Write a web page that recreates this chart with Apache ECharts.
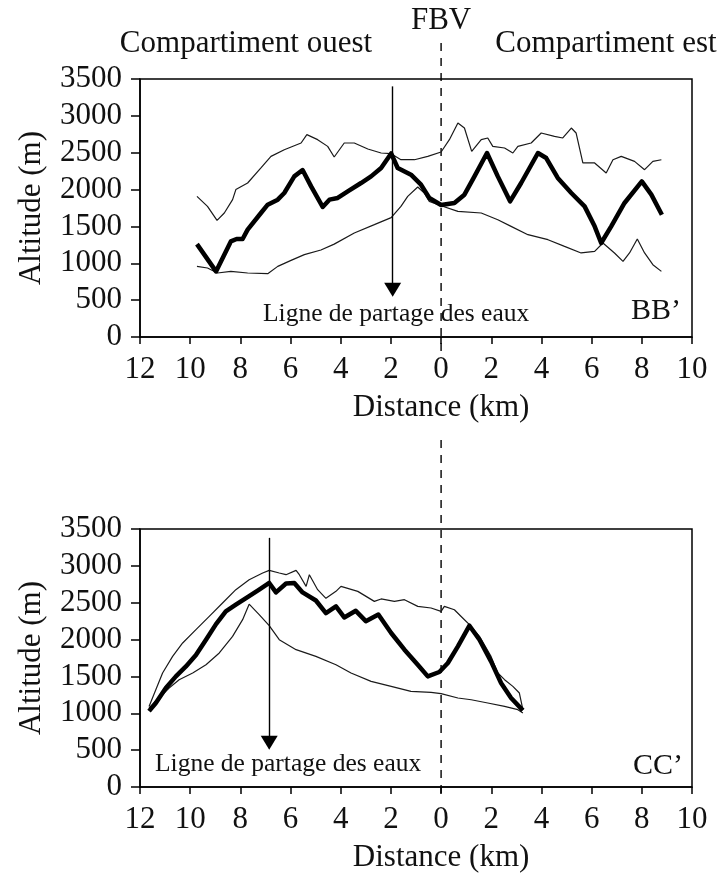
<!DOCTYPE html>
<html>
<head>
<meta charset="utf-8">
<script src="https://cdn.jsdelivr.net/npm/echarts/dist/echarts.min.js"></script>
<style>
  html, body { margin: 0; padding: 0; background: #ffffff; }
  #chart { width: 720px; height: 878px; }
</style>
</head>
<body>
<div id="chart"></div>
<script>
// Distance along the sections in km: west compartment negative, east positive.
const distanceMin = -12;
const distanceMax = 10;
const distanceStep = 2;
const altitudeMin = 0;
const altitudeMax = 3500;
const altitudeStep = 500;

// Section BB' : [distance km, altitude m]
const bbProfile = [
  [-9.73,1260],[-8.97,890],[-8.38,1297],[-8.15,1330],[-7.91,1330],[-7.71,1456],
  [-7.18,1682],[-6.91,1795],[-6.51,1863],[-6.25,1954],[-5.85,2179],[-5.52,2265],
  [-5.18,2043],[-4.72,1764],[-4.45,1863],[-4.12,1886],[-3.72,1976],[-3.19,2089],
  [-2.79,2179],[-2.39,2293],[-1.99,2490],[-1.73,2293],[-1.2,2202],[-0.8,2066],
  [-0.47,1886],[0,1790],[0.53,1818],[0.93,1931],[1.33,2179],[1.83,2496],
  [2.26,2179],[2.75,1840],[3.19,2089],[3.86,2496],[4.19,2428],[4.65,2157],
  [5.19,1954],[5.72,1772],[6.12,1501],[6.38,1275],[6.78,1501],[7.31,1818],
  [8.0,2111],[8.38,1931],[8.8,1659]
];
const bbUpper = [
  [-9.73,1908],[-9.31,1772],[-8.93,1582],[-8.64,1682],[-8.31,1863],[-8.18,2000],
  [-7.71,2089],[-7.18,2293],[-6.78,2450],[-6.25,2541],[-5.58,2632],[-5.35,2745],
  [-4.92,2677],[-4.52,2586],[-4.26,2442],[-3.86,2632],[-3.46,2632],[-2.92,2551],
  [-2.39,2496],[-1.99,2487],[-1.6,2405],[-1.06,2405],[-0.53,2450],[0,2510],
  [0.33,2677],[0.67,2903],[0.93,2835],[1.22,2518],[1.6,2677],[1.86,2700],
  [2.06,2586],[2.53,2564],[2.86,2496],[3.06,2586],[3.59,2632],[3.99,2768],
  [4.52,2722],[4.85,2700],[5.19,2835],[5.38,2768],[5.65,2361],[6.12,2361],
  [6.58,2225],[6.85,2405],[7.18,2450],[7.71,2383],[8.11,2270],[8.44,2383],[8.78,2405]
];
const bbLower = [
  [-9.73,958],[-9.31,936],[-8.91,868],[-8.38,890],[-7.71,868],[-6.91,859],
  [-6.51,958],[-5.98,1040],[-5.45,1117],[-4.79,1180],[-4.26,1260],[-3.46,1411],
  [-2.66,1524],[-1.99,1620],[-1.6,1772],[-1.33,1908],[-0.93,2035],[-0.67,1954],
  [-0.47,1840],[0,1781],[0.67,1704],[1.6,1682],[2.26,1591],[2.79,1501],
  [3.46,1388],[4.26,1320],[4.92,1229],[5.58,1140],[6.12,1161],[6.45,1275],
  [6.91,1140],[7.25,1026],[7.51,1140],[7.82,1330],[8.11,1140],[8.44,981],[8.78,890]
];

// Section CC' : [distance km, altitude m]
const ccProfile = [
  [-11.64,1030],[-11.37,1140],[-10.97,1343],[-10.57,1501],[-10.17,1636],[-9.77,1790],
  [-9.37,1998],[-8.97,2210],[-8.58,2382],[-8.18,2473],[-7.65,2590],[-7.25,2677],
  [-6.85,2768],[-6.58,2640],[-6.18,2760],[-5.85,2768],[-5.52,2640],[-4.99,2530],
  [-4.59,2360],[-4.19,2450],[-3.86,2300],[-3.4,2390],[-3.0,2250],[-2.5,2340],
  [-1.99,2089],[-1.46,1863],[-0.93,1660],[-0.53,1501],[-0.07,1560],[0.27,1682],
  [0.67,1908],[1.13,2188],[1.53,1998],[1.99,1704],[2.39,1411],[2.79,1207],[3.26,1039]
];
const ccUpper = [
  [-11.64,1093],[-11.37,1320],[-11.1,1547],[-10.7,1772],[-10.3,1954],[-9.77,2134],
  [-9.24,2315],[-8.71,2496],[-8.18,2677],[-7.65,2812],[-7.11,2903],[-6.85,2939],
  [-6.45,2903],[-6.18,2880],[-5.78,2939],[-5.65,2880],[-5.38,2722],[-5.25,2880],
  [-4.92,2677],[-4.59,2560],[-4.19,2654],[-3.99,2722],[-3.32,2654],[-2.66,2518],
  [-2.39,2551],[-1.86,2518],[-1.46,2541],[-0.93,2450],[-0.4,2428],[0,2382],
  [0.13,2450],[0.53,2405],[0.86,2293],[1.13,2202],[1.53,2043],[1.99,1772],
  [2.26,1547],[2.53,1456],[2.86,1365],[3.12,1275],[3.26,1049]
];
const ccLower = [
  [-11.64,1072],[-11.24,1207],[-10.84,1343],[-10.44,1456],[-9.9,1547],[-9.37,1659],
  [-8.84,1818],[-8.31,2043],[-7.91,2270],[-7.65,2480],[-7.25,2338],[-6.85,2190],
  [-6.45,1998],[-5.78,1863],[-4.99,1772],[-4.19,1659],[-3.59,1547],[-2.79,1433],
  [-1.99,1365],[-1.2,1297],[-0.4,1284],[0,1266],[0.67,1207],[1.2,1184],
  [1.86,1140],[2.53,1093],[3.06,1049],[3.26,1004]
];

// Water divide position on each section (km) and the altitude span of its arrow
const divideKm = [-1.93, -6.85];
const divideArrowFrom = [3400, 3380];
const divideArrowTo = [640, 600];

const sectionNames = ['BB\u2019', 'CC\u2019'];
const divideLabel = 'Ligne de partage des eaux';
const headerLabels = ['Compartiment ouest', 'FBV', 'Compartiment est'];
const distanceName = 'Distance (km)';
const altitudeName = 'Altitude (m)';

const FONT = '"Liberation Serif", "Times New Roman", Times, serif';
const INK = '#111111';
const TEXT = 31;

const gridBoxes = [
  { left: 140, top: 79, width: 552, height: 258 },
  { left: 140, top: 529, width: 552, height: 258 }
];

const chart = echarts.init(document.getElementById('chart'), null, { renderer: 'canvas' });

function xAxisFor(i) {
  return {
    gridIndex: i, type: 'value',
    min: distanceMin, max: distanceMax, interval: distanceStep,
    axisLine: { onZero: false, lineStyle: { color: '#000', width: 1.5 } },
    axisTick: { length: 7, lineStyle: { color: '#000', width: 1.5 } },
    axisLabel: {
      formatter: v => String(Math.abs(v)), fontFamily: FONT, fontSize: TEXT,
      color: INK, margin: 17, showMinLabel: true, showMaxLabel: true, hideOverlap: false
    },
    splitLine: { show: false }
  };
}
function yAxisFor(i) {
  return {
    gridIndex: i, type: 'value',
    min: altitudeMin, max: altitudeMax, interval: altitudeStep,
    axisLine: { show: true, onZero: false, lineStyle: { color: '#000', width: 1.5 } },
    axisTick: { show: true, length: 9, lineStyle: { color: '#000', width: 1.5 } },
    axisLabel: {
      formatter: v => String(v), fontFamily: FONT, fontSize: TEXT, color: INK, margin: 18,
      showMinLabel: true, showMaxLabel: true, hideOverlap: false
    },
    splitLine: { show: false },
    name: altitudeName, nameLocation: 'middle', nameGap: 93, nameRotate: 90,
    nameTextStyle: { fontFamily: FONT, fontSize: TEXT, color: INK }
  };
}

function thin(i, data) {
  return {
    type: 'line', xAxisIndex: i, yAxisIndex: i, data: data,
    showSymbol: false, smooth: false, z: 2,
    lineStyle: { color: '#1a1a1a', width: 1.2 }
  };
}
function thick(i, data) {
  return {
    type: 'line', xAxisIndex: i, yAxisIndex: i, data: data,
    showSymbol: false, smooth: false, z: 3,
    lineStyle: { color: '#000', width: 4.5, join: 'round' },
    markLine: {
      silent: true, animation: false,
      symbol: ['none', 'triangle'], symbolSize: [17, 14],
      label: { show: false },
      lineStyle: { color: '#000', width: 1.4, type: 'solid' },
      data: [[
        { coord: [divideKm[i], divideArrowFrom[i]] },
        { coord: [divideKm[i], divideArrowTo[i]] }
      ]]
    }
  };
}

chart.setOption({
  animation: false,
  backgroundColor: '#ffffff',
  grid: gridBoxes.map(b => Object.assign({
    show: true, borderColor: '#000', borderWidth: 1.5,
    backgroundColor: 'transparent', containLabel: false, outerBoundsMode: 'none'
  }, b)),
  xAxis: [xAxisFor(0), xAxisFor(1)],
  yAxis: [yAxisFor(0), yAxisFor(1)],
  series: [
    thin(0, bbUpper), thin(0, bbLower), thick(0, bbProfile),
    thin(1, ccUpper), thin(1, ccLower), thick(1, ccProfile)
  ]
});

// Fault line (FBV) at distance 0, running through both sections
const origin0 = chart.convertToPixel({ xAxisIndex: 0, yAxisIndex: 0 }, [0, 0]);
const origin1 = chart.convertToPixel({ xAxisIndex: 1, yAxisIndex: 1 }, [0, 0]);
const x0 = origin0[0];
const dash = { stroke: '#000', lineWidth: 1.4, lineDash: [8, 7] };

function label(text, x, y, size, align) {
  return {
    type: 'text', x: x, y: y, z: 10,
    style: {
      text: text, fontFamily: FONT, fontSize: size, fill: INK,
      textAlign: align || 'left', textVerticalAlign: 'middle'
    }
  };
}

chart.setOption({
  graphic: [
    { type: 'line', z: 1, shape: { x1: x0, y1: 43, x2: x0, y2: 356 }, style: dash },
    { type: 'line', z: 1, shape: { x1: x0, y1: 440, x2: x0, y2: 796 }, style: dash },
    label(headerLabels[0], 246, 44, TEXT, 'center'),
    label(headerLabels[1], x0, 21, TEXT, 'center'),
    label(headerLabels[2], 606, 44, TEXT, 'center'),
    label(distanceName, x0, origin0[1] + 71, TEXT, 'center'),
    label(distanceName, x0, origin1[1] + 71, TEXT, 'center'),
    label(sectionNames[0], 631, 311, 30, 'left'),
    label(sectionNames[1], 633, 766, 30, 'left'),
    label(divideLabel, 263, 314, 25.5, 'left'),
    label(divideLabel, 155, 764, 25.5, 'left')
  ]
});
</script>
</body>
</html>
